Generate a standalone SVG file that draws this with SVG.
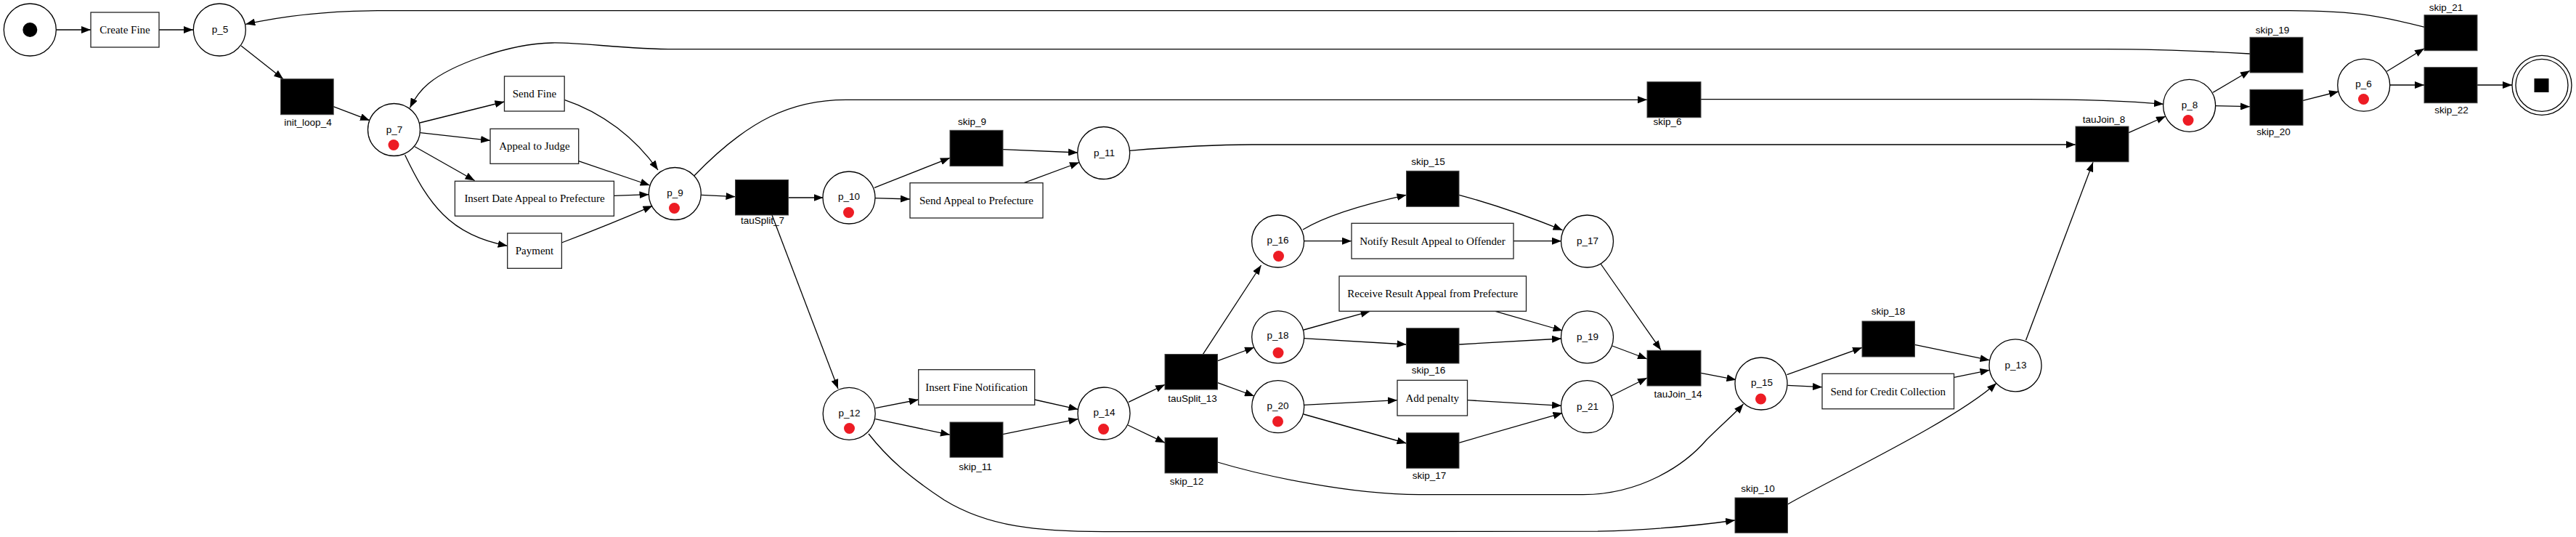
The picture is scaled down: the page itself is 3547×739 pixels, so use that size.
<svg xmlns="http://www.w3.org/2000/svg" width="3547" height="739" viewBox="0 0 3547 739">
<defs>
<marker id="ah" markerWidth="13" markerHeight="10" refX="13" refY="5" orient="auto" markerUnits="userSpaceOnUse"><path d="M0,0 L13,5 L0,10 z" fill="#000"/></marker>
<style>
.e{fill:none;stroke:#000;stroke-width:1.3;marker-end:url(#ah)}
.pl{fill:#fff;stroke:#000;stroke-width:1.3}
.tk{fill:#ed1c24}
.tr{fill:#fff;stroke:#222;stroke-width:1.3}
.st{fill:#000;stroke:#444;stroke-width:1}
.lp{font-family:"Liberation Sans",Arial,sans-serif;font-size:13.5px;fill:#000;text-anchor:middle}
.lt{font-family:"Liberation Serif","Times New Roman",serif;font-size:15px;fill:#000;text-anchor:middle}
</style>
</defs>
<rect width="3547" height="739" fill="#fff"/>
<g id="connectors">
<path class="e" d="M77.7,41 L125,41"/>
<path class="e" d="M219,41 L266,41"/>
<path class="e" d="M332,63 L390,108.7"/>
<path class="e" d="M459,146.7 L509,165.7"/>
<path class="e" d="M578,169 L694.5,140"/>
<path class="e" d="M578.6,182.7 L675,193.3"/>
<path class="e" d="M571,201.7 Q610,224 653.6,248.5"/>
<path class="e" d="M557.6,213.3 C575,250 590,275 610,295 C635,320 665,332 698.7,338.3"/>
<path class="e" d="M777.2,137.3 C830,155 875,190 906,234"/>
<path class="e" d="M796.7,221.7 L894.7,255"/>
<path class="e" d="M845.3,269.3 L893.5,267.7"/>
<path class="e" d="M773.4,334 C810,320 860,300 898.5,283.3"/>
<path class="e" d="M965.5,268.3 L1012.5,270.7"/>
<path class="e" d="M1085.7,272 L1133.5,272"/>
<path class="e" d="M956,241.7 C1030,165 1090,137.3 1165,137.3 L2268,137.3"/>
<path class="e" d="M1063,296 L1154,535"/>
<path class="e" d="M1204,258.3 L1308,217.3"/>
<path class="e" d="M1205,272.7 L1253,274"/>
<path class="e" d="M1381,205.7 L1484,210"/>
<path class="e" d="M1410,251.7 L1486,223.5"/>
<path class="e" d="M1555.5,207.3 C1620,202 1680,199 1724,199 L2858,199"/>
<path class="e" d="M2342,136.7 L2793,136.7 C2880,137 2940,140 2979,143.3"/>
<path class="e" d="M2931,182.7 L2982,160"/>
<path class="e" d="M3047,127.3 L3098,97.3"/>
<path class="e" d="M3050.5,145.7 L3098,146.7"/>
<path class="e" d="M3171,138.3 L3220,126"/>
<path class="e" d="M3286.5,98.3 L3338,66.7"/>
<path class="e" d="M3290.5,117 L3338,117"/>
<path class="e" d="M3411,117 L3459,117"/>
<path class="e" d="M3338,37.3 C3290,25 3250,14.7 3153,14.7 L520,14.7 C440,15 380,24 338.3,33.3"/>
<path class="e" d="M3098,74 C3010,69 2960,67.7 2900,67.7 L930,67.7 C860,67.7 800,58 760,59 C700,60 620,90 590,115 C578,125 570,137 564.5,148.3"/>
<path class="e" d="M1205.4,561.7 L1264.7,550"/>
<path class="e" d="M1205.4,576.7 L1308,598.3"/>
<path class="e" d="M1424.6,550 L1484.4,563.3"/>
<path class="e" d="M1380.8,597.7 L1484.4,576.7"/>
<path class="e" d="M1196,597 C1222,630 1250,655 1300,688 C1360,725 1430,731.7 1520,731.7 L2200,731.2 C2280,729 2340,723 2389,716"/>
<path class="e" d="M1554,553.3 L1604,529.3"/>
<path class="e" d="M1553,585 L1604,609.3"/>
<path class="e" d="M1656.5,487.3 L1736.5,365"/>
<path class="e" d="M1676.5,496.7 L1727,478"/>
<path class="e" d="M1676.5,526.7 L1727,545"/>
<path class="e" d="M1676.5,636 C1740,655 1860,680.7 1954,680.7 L2180,680.7 C2260,680 2320,640 2350,605 C2370,585 2390,568 2400.5,556"/>
<path class="e" d="M1794,316 C1820,300 1870,283 1936.5,268.3"/>
<path class="e" d="M1795,331.7 L1861,331.7"/>
<path class="e" d="M2009,268.3 C2060,282 2110,300 2151.5,316.7"/>
<path class="e" d="M2084,331.7 L2150,331.7"/>
<path class="e" d="M2204,363 L2287,481.7"/>
<path class="e" d="M1795,454 L1886.5,428.3"/>
<path class="e" d="M1795,465.7 L1936.5,474"/>
<path class="e" d="M2059,428.3 L2151.5,455"/>
<path class="e" d="M2009,474 L2150,466"/>
<path class="e" d="M1795,557.3 L1924,550.7"/>
<path class="e" d="M1795,570 L1936.5,610"/>
<path class="e" d="M2020.5,550.7 L2150,558.3"/>
<path class="e" d="M2009,609.3 L2151.5,568.3"/>
<path class="e" d="M2220,476 L2268,494"/>
<path class="e" d="M2218,545 L2268,520"/>
<path class="e" d="M2342,513.3 L2390.5,522.7"/>
<path class="e" d="M2460.5,515.7 L2564,478.3"/>
<path class="e" d="M2461.5,530.3 L2509,532.7"/>
<path class="e" d="M2636.5,474.3 L2739.5,495.7"/>
<path class="e" d="M2690.5,519.3 L2739.5,509.3"/>
<path class="e" d="M2461.5,694 C2530,655 2690,580 2749,527.3"/>
<path class="e" d="M2789.5,468.3 L2882,223.3"/>
</g>
<g id="start"><circle class="pl" cx="41.3" cy="41" r="36"/><circle cx="41.3" cy="41" r="10" fill="#000"/></g>
<g id="create_fine"><rect class="tr" x="125" y="17" width="94" height="48"/><text class="lt" x="172" y="46">Create Fine</text></g>
<g id="p_5"><circle class="pl" cx="302.3" cy="41" r="36"/><text class="lp" x="303" y="45">p_5</text></g>
<g id="init_loop_4"><rect class="st" x="386.5" y="108.7" width="72.7" height="49"/><text class="lp" x="424" y="173">init_loop_4</text></g>
<g id="p_7"><circle class="pl" cx="542.5" cy="178.5" r="36"/><text class="lp" x="543" y="182.5">p_7</text><circle class="tk" cx="542" cy="199.5" r="7.5"/></g>
<g id="send_fine"><rect class="tr" x="694.5" y="105" width="82.7" height="48"/><text class="lt" x="736" y="134">Send Fine</text></g>
<g id="appeal_judge"><rect class="tr" x="675" y="177.3" width="121.7" height="48"/><text class="lt" x="736" y="206.3">Appeal to Judge</text></g>
<g id="insert_date"><rect class="tr" x="626.4" y="249.3" width="219" height="48"/><text class="lt" x="736" y="278.3">Insert Date Appeal to Prefecture</text></g>
<g id="payment"><rect class="tr" x="698.7" y="321" width="74.7" height="48.3"/><text class="lt" x="736" y="350">Payment</text></g>
<g id="p_9"><circle class="pl" cx="929.3" cy="266.5" r="36"/><text class="lp" x="929.5" y="270">p_9</text><circle class="tk" cx="928.5" cy="286.5" r="7.5"/></g>
<g id="tauSplit_7"><rect class="st" x="1012.5" y="247.5" width="73" height="48.5"/><text class="lp" x="1050" y="308">tauSplit_7</text></g>
<g id="p_10"><circle class="pl" cx="1169" cy="272" r="36"/><text class="lp" x="1169" y="275">p_10</text><circle class="tk" cx="1168.5" cy="292.5" r="7.5"/></g>
<g id="skip_9"><rect class="st" x="1308" y="179.3" width="73" height="49.3"/><text class="lp" x="1338.5" y="171.7">skip_9</text></g>
<g id="send_appeal_prefecture"><rect class="tr" x="1253" y="251.7" width="183" height="48.3"/><text class="lt" x="1344.5" y="280.8">Send Appeal to Prefecture</text></g>
<g id="p_11"><circle class="pl" cx="1519.7" cy="210.5" r="36"/><text class="lp" x="1520.5" y="214.5">p_11</text></g>
<g id="skip_6"><rect class="st" x="2268" y="112.7" width="74" height="49"/><text class="lp" x="2296" y="171.5">skip_6</text></g>
<g id="tauJoin_8"><rect class="st" x="2858" y="174" width="73" height="48.7"/><text class="lp" x="2897" y="168.5">tauJoin_8</text></g>
<g id="p_8"><circle class="pl" cx="3014.6" cy="145.3" r="36"/><text class="lp" x="3015" y="148.5">p_8</text><circle class="tk" cx="3013" cy="165.5" r="7.5"/></g>
<g id="skip_19"><rect class="st" x="3098" y="51.3" width="73" height="48.7"/><text class="lp" x="3129" y="46">skip_19</text></g>
<g id="skip_20"><rect class="st" x="3098" y="123.3" width="73" height="49"/><text class="lp" x="3130.5" y="185.5">skip_20</text></g>
<g id="p_6"><circle class="pl" cx="3254.75" cy="117.2" r="36"/><text class="lp" x="3254.5" y="120">p_6</text><circle class="tk" cx="3254.5" cy="136.5" r="7.5"/></g>
<g id="skip_21"><rect class="st" x="3338" y="20.7" width="73" height="49"/><text class="lp" x="3368" y="15">skip_21</text></g>
<g id="skip_22"><rect class="st" x="3338" y="92.7" width="73" height="49"/><text class="lp" x="3375.5" y="156">skip_22</text></g>
<g id="end"><circle class="pl" cx="3500" cy="117.3" r="41"/><circle class="pl" cx="3500" cy="117.3" r="36"/><rect x="3489.5" y="108" width="20" height="19" fill="#000"/></g>
<g id="p_12"><circle class="pl" cx="1169.2" cy="569.3" r="36"/><text class="lp" x="1169.5" y="572.5">p_12</text><circle class="tk" cx="1169.5" cy="589.5" r="7.5"/></g>
<g id="insert_fine_notification"><rect class="tr" x="1264.7" y="508.7" width="160" height="48.6"/><text class="lt" x="1344.6" y="538">Insert Fine Notification</text></g>
<g id="skip_11"><rect class="st" x="1308" y="581" width="73" height="48.3"/><text class="lp" x="1343" y="646.5">skip_11</text></g>
<g id="p_14"><circle class="pl" cx="1520" cy="569" r="36"/><text class="lp" x="1520.5" y="572">p_14</text><circle class="tk" cx="1519.5" cy="590.5" r="7.5"/></g>
<g id="tauSplit_13"><rect class="st" x="1604" y="487.5" width="72.5" height="48.5"/><text class="lp" x="1642" y="553">tauSplit_13</text></g>
<g id="skip_12"><rect class="st" x="1604" y="602.3" width="72.5" height="48.7"/><text class="lp" x="1634" y="666.5">skip_12</text></g>
<g id="p_16"><circle class="pl" cx="1759.6" cy="332" r="36"/><text class="lp" x="1759.5" y="335">p_16</text><circle class="tk" cx="1760.5" cy="352.5" r="7.5"/></g>
<g id="skip_15"><rect class="st" x="1936.5" y="235.3" width="72.5" height="49"/><text class="lp" x="1966.5" y="226.5">skip_15</text></g>
<g id="notify_result"><rect class="tr" x="1861" y="307.3" width="223" height="48.7"/><text class="lt" x="1972.5" y="336.5">Notify Result Appeal to Offender</text></g>
<g id="p_17"><circle class="pl" cx="2185.5" cy="332" r="36"/><text class="lp" x="2186" y="336">p_17</text></g>
<g id="p_18"><circle class="pl" cx="1759.7" cy="463.8" r="36"/><text class="lp" x="1759.5" y="466">p_18</text><circle class="tk" cx="1760" cy="485.5" r="7.5"/></g>
<g id="receive_result"><rect class="tr" x="1844" y="380" width="257.5" height="48.3"/><text class="lt" x="1972.75" y="409">Receive Result Appeal from Prefecture</text></g>
<g id="skip_16"><rect class="st" x="1936.5" y="451.7" width="72.5" height="48.3"/><text class="lp" x="1967" y="514">skip_16</text></g>
<g id="p_19"><circle class="pl" cx="2185.5" cy="463.8" r="36"/><text class="lp" x="2186" y="467.5">p_19</text></g>
<g id="p_20"><circle class="pl" cx="1759.7" cy="559.7" r="36"/><text class="lp" x="1759.5" y="562.5">p_20</text><circle class="tk" cx="1759.5" cy="580" r="7.5"/></g>
<g id="add_penalty"><rect class="tr" x="1924" y="523.3" width="96.5" height="48.7"/><text class="lt" x="1972.25" y="552.5">Add penalty</text></g>
<g id="skip_17"><rect class="st" x="1936.5" y="595.7" width="72.5" height="48.6"/><text class="lp" x="1968" y="659">skip_17</text></g>
<g id="p_21"><circle class="pl" cx="2185.5" cy="559.7" r="36"/><text class="lp" x="2186" y="563.5">p_21</text></g>
<g id="tauJoin_14"><rect class="st" x="2268" y="482.3" width="74" height="48.7"/><text class="lp" x="2310.5" y="547">tauJoin_14</text></g>
<g id="p_15"><circle class="pl" cx="2425" cy="528" r="36"/><text class="lp" x="2426" y="530.5">p_15</text><circle class="tk" cx="2424.5" cy="549" r="7.5"/></g>
<g id="skip_18"><rect class="st" x="2564" y="442" width="72.5" height="49"/><text class="lp" x="2600" y="433">skip_18</text></g>
<g id="send_credit"><rect class="tr" x="2509" y="514.3" width="181.5" height="48.4"/><text class="lt" x="2599.75" y="543.5">Send for Credit Collection</text></g>
<g id="p_13"><circle class="pl" cx="2775" cy="502.8" r="36"/><text class="lp" x="2775.5" y="507">p_13</text></g>
<g id="skip_10"><rect class="st" x="2389" y="685" width="72.5" height="48.3"/><text class="lp" x="2420.5" y="676.5">skip_10</text></g>
</svg>
